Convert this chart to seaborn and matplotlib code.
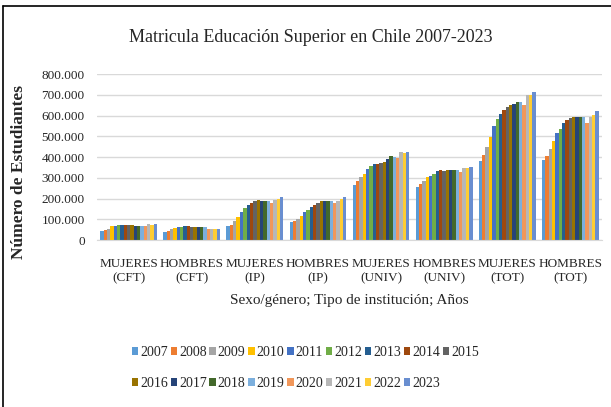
import numpy as np
import pandas as pd
import seaborn as sns
import matplotlib.pyplot as plt
from matplotlib.ticker import FuncFormatter
from matplotlib.lines import Line2D

categorias = ["MUJERES\n(CFT)", "HOMBRES\n(CFT)", "MUJERES\n(IP)", "HOMBRES\n(IP)",
              "MUJERES\n(UNIV)", "HOMBRES\n(UNIV)", "MUJERES\n(TOT)", "HOMBRES\n(TOT)"]
anios = [str(a) for a in range(2007, 2024)]

# matricula por categoria (miles de estudiantes), 2007..2023
mujeres_cft = [44, 48, 56, 66, 70, 72, 73, 73, 72, 71, 70, 70, 70, 70, 77, 72, 78]
hombres_cft = [40, 44, 52, 60, 63, 65, 66, 66, 65, 65, 64, 64, 61, 56, 53, 53, 56]
mujeres_ip = [67, 75, 91, 112, 136, 155, 168, 179, 190, 195, 190, 189, 190, 179, 192, 200, 206]
hombres_ip = [88, 91, 101, 115, 136, 147, 160, 171, 181, 189, 190, 187, 187, 179, 189, 200, 210]
mujeres_univ = [267, 286, 302, 321, 342, 355, 366, 369, 372, 378, 390, 404, 401, 394, 424, 421, 426]
hombres_univ = [254, 270, 286, 302, 310, 321, 334, 337, 334, 337, 339, 340, 337, 326, 347, 347, 350]
mujeres_tot = [382, 410, 448, 499, 548, 583, 610, 626, 639, 649, 655, 665, 665, 649, 700, 700, 712]
hombres_tot = [388, 407, 437, 477, 514, 537, 566, 580, 590, 593, 591, 593, 593, 564, 591, 601, 620]

series = [mujeres_cft, hombres_cft, mujeres_ip, hombres_ip,
          mujeres_univ, hombres_univ, mujeres_tot, hombres_tot]

colores = ["#5B9BD5", "#ED7D31", "#A5A5A5", "#FFC000", "#4472C4", "#70AD47",
           "#255E91", "#9E480E", "#636363", "#997300", "#264478", "#43682B",
           "#7CAFDD", "#F1975A", "#B7B7B7", "#FFCD33", "#698ED0"]

filas = []
for cat, valores in zip(categorias, series):
    for anio, v in zip(anios, valores):
        filas.append({"categoria": cat, "anio": anio, "valor": v * 1000})
df = pd.DataFrame(filas)

sns.set_style("white")
plt.rcParams["font.family"] = ["Liberation Serif", "DejaVu Serif"]

fig = plt.figure(figsize=(6.11, 4.07), dpi=100)
ax = fig.add_axes([0.159, 0.410, 0.826, 0.408])

sns.barplot(data=df, x="categoria", y="valor", hue="anio", palette=colores,
            width=0.9, saturation=1, linewidth=0, edgecolor="none", ax=ax)

ax.set_ylim(0, 800000)
ax.set_yticks(np.arange(0, 800001, 100000))
ax.yaxis.set_major_formatter(FuncFormatter(lambda v, p: f"{int(v):,}".replace(",", ".")))
ax.grid(axis="y", color="#D9D9D9", linewidth=1)
ax.set_axisbelow(True)
for s in ["top", "right", "left"]:
    ax.spines[s].set_visible(False)
ax.spines["bottom"].set_color("#D9D9D9")
ax.tick_params(axis="y", length=0, labelsize=9.5, pad=9)
ax.tick_params(axis="x", length=0, labelsize=9.5, pad=13)

ax.set_xlabel("Sexo/género; Tipo de institución; Años", fontsize=11, labelpad=7)
ax.set_ylabel("Número de Estudiantes", fontsize=12.5, fontweight="bold")
ax.yaxis.set_label_coords(-0.139, 0.41)
fig.text(0.508, 0.907, "Matricula Educación Superior en Chile 2007-2023",
         ha="center", va="center", fontsize=13)

# leyenda en dos filas (orden por filas)
handles, labels = ax.get_legend_handles_labels()
orden = []
for i in range(8):
    orden += [i, i + 9]
orden.append(8)
ax.legend([handles[i] for i in orden], [labels[i] for i in orden],
          ncol=9, loc="center", bbox_to_anchor=(0.5, 0.096), bbox_transform=fig.transFigure,
          frameon=False, fontsize=10, handlelength=0.45, handleheight=0.45,
          handletextpad=0.15, columnspacing=0.2, labelspacing=1.3)

# marco de la imagen original
fig.add_artist(Line2D([0.005, 0.005], [0, 0.985], color="black", lw=1.2, transform=fig.transFigure))
fig.add_artist(Line2D([0.005, 1], [0.985, 0.985], color="black", lw=1.2, transform=fig.transFigure))

fig.savefig("out.png", dpi=100)
